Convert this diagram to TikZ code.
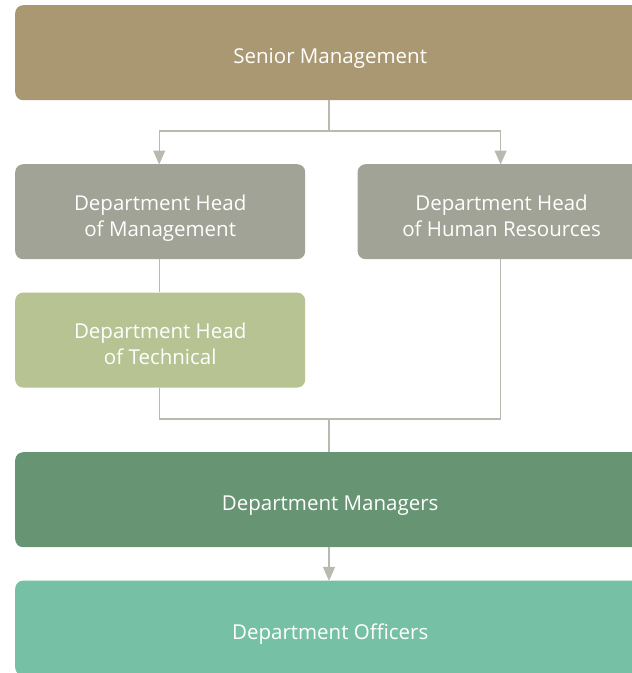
\documentclass[tikz,border=0pt]{standalone}
\usepackage{fontspec}
\setmainfont{Open Sans}
\usepackage{xcolor}
\usetikzlibrary{positioning,arrows.meta}

\definecolor{seniorcol}{HTML}{AA9872}
\definecolor{headcol}{HTML}{A0A395}
\definecolor{techcol}{HTML}{B8C393}
\definecolor{mgrcol}{HTML}{679574}
\definecolor{officercol}{HTML}{76C1A5}
\definecolor{linecol}{HTML}{B9BAAF}

\begin{document}
\begin{tikzpicture}[
  x=1pt, y=-1pt,
  node distance=65pt and 52pt,
  box/.style={rounded corners=8pt, align=center, text=white, inner sep=0pt,
    font=\fontsize{20.5}{26}\selectfont, text depth=0pt, minimum height=95pt,
    execute at begin node={\rule{0pt}{22.5pt}}},
  wide/.style={box, minimum width=630pt},
  half/.style={box, minimum width=290pt, text height=49.5pt},
  link/.style={draw=linecol, line width=1.2pt},
  arr/.style={link, -{Triangle[width=12pt,length=14pt]}, shorten >=-0.5pt}
]
\useasboundingbox (0,0) rectangle (632,673);
\clip (0,0) rectangle (632,673);
\node[wide, fill=seniorcol, anchor=north west] (senior) at (15,5) {Senior Management};
\node[half, fill=headcol, anchor=north west] (headmgmt) at (15,164) {Department Head\\of Management};
\node[half, fill=headcol, minimum width=288pt, right=of headmgmt] (headhr) {Department Head\\of Human Resources};
\node[half, fill=techcol, below=33pt of headmgmt] (headtech) {Department Head\\of Technical};
\node[wide, fill=mgrcol, anchor=north west] (managers) at (15,452) {Department Managers};
\node[wide, fill=officercol, below=33pt of managers] (officers) {Department Officers};
% junction points on the connectors
\coordinate (top) at (329,131);
\coordinate (bottom) at (329,419);
\draw[link] (top |- senior.south) -- (top);
\draw[arr] (top) -| ([xshift=-1pt]headmgmt.north);
\draw[arr] (top) -| ([xshift=-1pt]headhr.north);
\draw[link] ([xshift=-1pt]headmgmt.south) -- ([xshift=-1pt]headtech.north);
\draw[link] ([xshift=-1pt]headtech.south) |- (bottom);
\draw[link] ([xshift=-1pt]headhr.south) |- (bottom);
\draw[link] (bottom) -- (bottom |- managers.north);
\draw[arr] (bottom |- managers.south) -- (bottom |- officers.north);
\end{tikzpicture}
\end{document}
